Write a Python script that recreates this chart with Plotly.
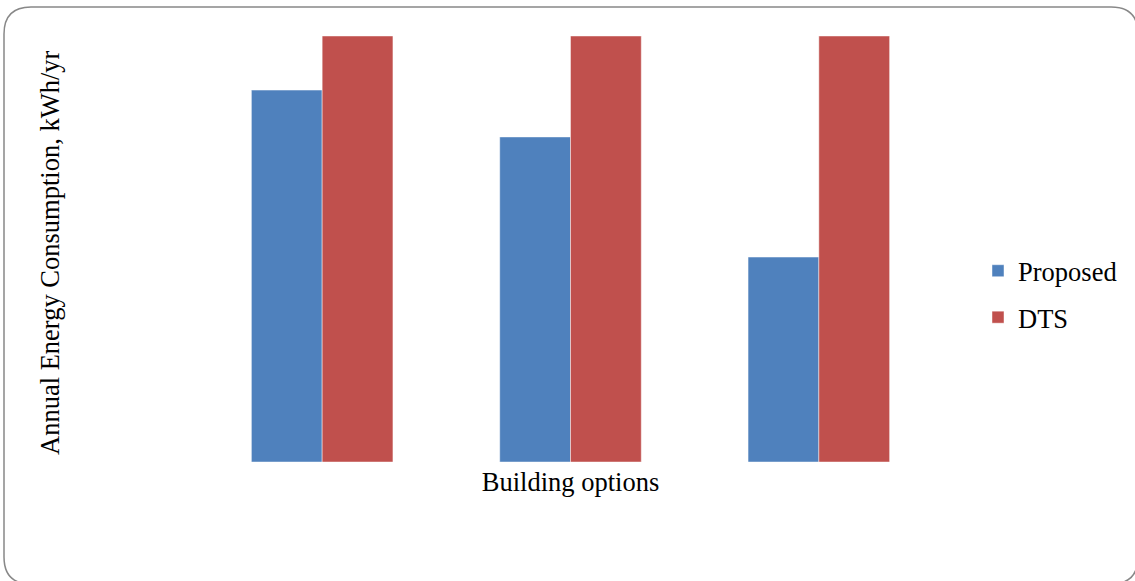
import plotly.graph_objects as go

# Annual energy consumption by building option
categories = ["Option 1", "Option 2", "Option 3"]
proposed = [87.3, 76.3, 48.1]
dts = [100, 100, 100]

W, H = 1135, 581
ML, MR, MT, MB = 198, 192, 36, 119

fig = go.Figure()
fig.add_trace(go.Bar(
    x=categories, y=proposed, name="Proposed", legendgroup="a",
    marker=dict(color="#4F81BD", line=dict(color="rgba(255,255,255,0.45)", width=1)),
))
fig.add_trace(go.Bar(
    x=categories, y=dts, name="DTS", legendgroup="b",
    marker=dict(color="#C0504D", line=dict(color="rgba(255,255,255,0.45)", width=1)),
))

# rounded frame around the whole chart, expressed in paper coordinates
pw, ph = W - ML - MR, H - MT - MB
def px(x):
    return (x - ML) / pw
def py(y):
    return (H - MB - y) / ph

x0, y0, x1, y1, r = 4, 7, 1138, 584, 27
path = (
    f"M {px(x0 + r)} {py(y0)} L {px(x1 - r)} {py(y0)} "
    f"Q {px(x1)} {py(y0)} {px(x1)} {py(y0 + r)} L {px(x1)} {py(y1 - r)} "
    f"Q {px(x1)} {py(y1)} {px(x1 - r)} {py(y1)} L {px(x0 + r)} {py(y1)} "
    f"Q {px(x0)} {py(y1)} {px(x0)} {py(y1 - r)} L {px(x0)} {py(y0 + r)} "
    f"Q {px(x0)} {py(y0)} {px(x0 + r)} {py(y0)} Z"
)

font = "Liberation Serif, Times New Roman, serif"
FS = 26.5
fig.update_layout(
    width=W, height=H,
    margin=dict(l=ML, r=MR, t=MT, b=MB),
    paper_bgcolor="white", plot_bgcolor="white",
    barmode="group", bargap=0.43, bargroupgap=0,
    font=dict(family=font, size=FS, color="black"),
    xaxis=dict(
        showticklabels=False, showgrid=False, zeroline=False, showline=False,
        ticks="", title=dict(text="Building options", standoff=10,
                             font=dict(family=font, size=FS, color="black")),
    ),
    yaxis=dict(
        range=[0, 100], showticklabels=False, showgrid=False, zeroline=False,
        showline=False, ticks="",
    ),
    legend=dict(
        x=px(978), y=py(247), xanchor="left", yanchor="top",
        font=dict(family=font, size=FS, color="black"),
        traceorder="grouped", tracegroupgap=9, itemwidth=30,
        bgcolor="rgba(0,0,0,0)",
    ),
    annotations=[dict(
        text="Annual Energy Consumption, kWh/yr", textangle=-90,
        x=px(50), y=py(253), xref="paper", yref="paper",
        xanchor="center", yanchor="middle", showarrow=False,
        font=dict(family=font, size=FS, color="black"),
    )],
    shapes=[dict(type="path", path=path, xref="paper", yref="paper",
                 line=dict(color="#888888", width=1.5), layer="above")],
)

fig.write_html("out.html")
